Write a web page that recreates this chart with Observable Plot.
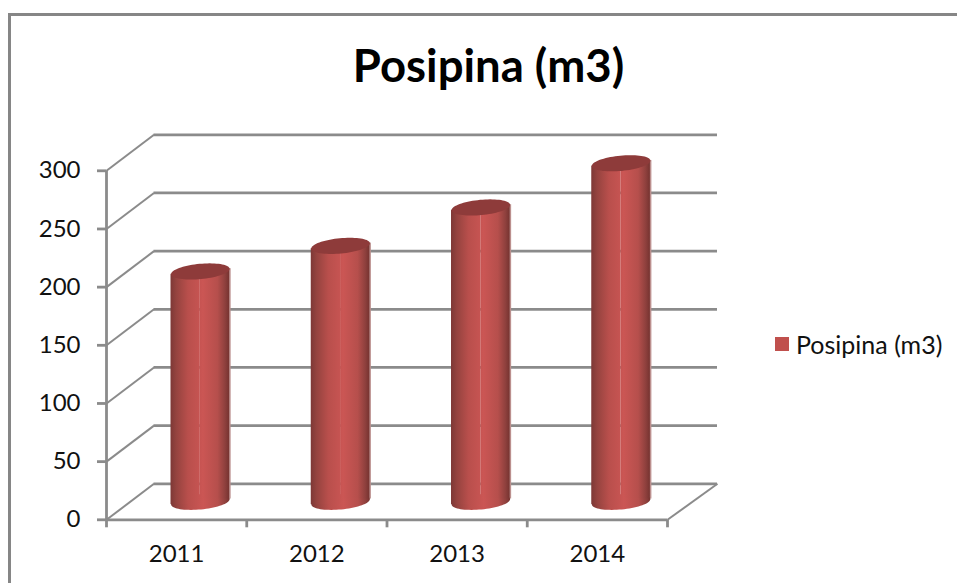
<!DOCTYPE html>
<html>
<head>
<meta charset="utf-8">
<script src="https://cdn.jsdelivr.net/npm/d3@7"></script>
<script src="https://cdn.jsdelivr.net/npm/@observablehq/plot@0.6"></script>
<style>
  html, body { margin: 0; padding: 0; background: #fff; }
  #root { position: relative; width: 957px; height: 583px; overflow: hidden; font-family: Lato, "Open Sans", sans-serif; color: #111; }
  #frame { position: absolute; left: 8px; top: 13px; width: 960px; height: 600px; border-left: 3px solid #868686; border-top: 3px solid #868686; box-sizing: border-box; pointer-events: none; }
  #title { position: relative; height: 115px; box-sizing: border-box; padding-top: 36px; padding-left: 20px; text-align: center; font-size: 45.5px; font-weight: 700; line-height: 58px; color: #000; }
  #legend { position: absolute; left: 775px; top: 330px; display: flex; align-items: center; font-size: 25px; line-height: 28px; }
  #legend i { display: inline-block; width: 14px; height: 14px; background: #c0504d; margin-right: 7px; }
  #root svg { display: block; position: relative; }
</style>
</head>
<body>
<div id="root">
  <div id="frame"></div>
  <div id="title"></div>
  <div id="chart"></div>
  <div id="legend"><i></i><span id="legend-text"></span></div>
</div>
<script>
const titleText = "Posipina (m3)";
const years = ["2011", "2012", "2013", "2014"];
const values = [198, 220, 253, 291];
const yTicks = [0, 50, 100, 150, 200, 250, 300];

const rows = years.map((year, i) => ({year, i, value: values[i]}));

document.getElementById("title").textContent = titleText;
document.getElementById("legend-text").textContent = titleText;

const gridColor = "#8b8b8b";
const barHalf = 0.209;          // half a cylinder's width, in band units
const depthX = 47.5 / 140.25;   // depth of the 3D box, in x units
const depthY = 36 / 1.1635;     // depth of the 3D box, in y units
const tilt = 2.4;               // rise of the tilted ellipse's ends, in y units

function tiltedEllipse(ratio, angle) {
  return {
    draw(context, size) {
      const rx = Math.sqrt(size / Math.PI), ry = rx * ratio;
      const c = Math.cos(angle), s = Math.sin(angle);
      for (let k = 0; k < 72; ++k) {
        const t = (k / 72) * 2 * Math.PI;
        const a = rx * Math.cos(t), b = ry * Math.sin(t);
        const px = a * c - b * s, py = a * s + b * c;
        if (k === 0) context.moveTo(px, py); else context.lineTo(px, py);
      }
      context.closePath();
    }
  };
}
const ellipse = tiltedEllipse(0.26, -0.095);

function defs() {
  const d = d3.create("svg:defs");
  const add = (id, stops) => {
    const g = d.append("linearGradient").attr("id", id).attr("x1", 0).attr("x2", 1).attr("y1", 0).attr("y2", 0);
    stops.forEach(([o, c]) => g.append("stop").attr("offset", o).attr("stop-color", c));
  };
  const left = [[0, "#7d3836"], [0.1, "#95433f"], [0.3, "#b94f4c"], [0.55, "#cb5654"]];
  const right = [[0.55, "#cb5654"], [0.8, "#b64f4c"], [0.93, "#8e403d"], [1, "#763330"]];
  const all = [...left, ...right.slice(1)];
  add("cyl", all);
  const mid = "#c65452";
  add("cylL", [...left.slice(0, 3).map(([o, c]) => [o * 2, c]), [1, mid]]);
  add("cylR", [[0, mid], [0.1, "#cb5654"], ...right.slice(1).map(([o, c]) => [o * 2 - 1, c])]);
  return d.node();
}

const barShift = {dx: 23.7, dy: -18};
const leftX1 = d => d.i + 0.5 - barHalf, midX = d => d.i + 0.5, rightX2 = d => d.i + 0.5 + barHalf;
const chart = Plot.plot({
  width: 957,
  height: 468,
  marginLeft: 106,
  marginRight: 290,
  marginTop: 55.3,
  marginBottom: 63.7,
  x: {domain: [0, 4]},
  y: {domain: [0, 300]},
  style: {background: "transparent", overflow: "visible", fontFamily: "Lato, 'Open Sans', sans-serif", color: "#111"},
  marks: [
    defs,
    Plot.ruleY(yTicks, {dx: 47.5, dy: -36, insetRight: -2.5, stroke: gridColor, strokeWidth: 2.8}),
    Plot.link(yTicks, {x1: 0, x2: depthX, y1: d => d, y2: d => d + depthY, stroke: gridColor, strokeWidth: 2}),
    Plot.link([0], {x1: 4, x2: 4 + depthX + 0.018, y1: d => d, y2: d => d + depthY, stroke: gridColor, strokeWidth: 2}),
    Plot.ruleY([0], {stroke: gridColor, strokeWidth: 2.8}),
    Plot.ruleX([0], {y1: 0, y2: 300, stroke: gridColor, strokeWidth: 2.8}),
    Plot.axisY({ticks: yTicks, tickSize: 9, tickPadding: 17, fontSize: 24, stroke: gridColor, strokeWidth: 2.8, label: null}),
    Plot.axisX({ticks: [0, 1, 2, 3, 4], tickSize: 8, tickFormat: () => "", stroke: gridColor, strokeWidth: 2.8, label: null}),
    Plot.axisX({ticks: [0.5, 1.5, 2.5, 3.5], tickSize: 0, tickPadding: 25, fontSize: 24, tickFormat: d => years[Math.floor(d)], label: null}),
    // pale shadow on the cylinders' right side
    Plot.rectY(rows, {x1: midX, x2: rightX2, y1: tilt, y2: d => d.value + tilt, dx: 25.2, dy: -18, fill: "#bb8f8d"}),
    // cylinder bottom, body (two halves following the ellipse's tilt), cap
    Plot.dot(rows, {x: midX, y: 0, r: 29.4, symbol: ellipse, fill: "url(#cyl)", ...barShift}),
    Plot.rectY(rows, {x1: leftX1, x2: midX, y1: -tilt, y2: d => d.value - tilt, fill: "url(#cylL)", ...barShift}),
    Plot.rectY(rows, {x1: midX, x2: rightX2, y1: tilt, y2: d => d.value + tilt, fill: "url(#cylR)", ...barShift}),
    Plot.dot(rows, {x: midX, y: "value", r: 29.4, symbol: ellipse, fill: "#8e3b3a", ...barShift})
  ]
});
document.getElementById("chart").appendChild(chart);
</script>
</body>
</html>
